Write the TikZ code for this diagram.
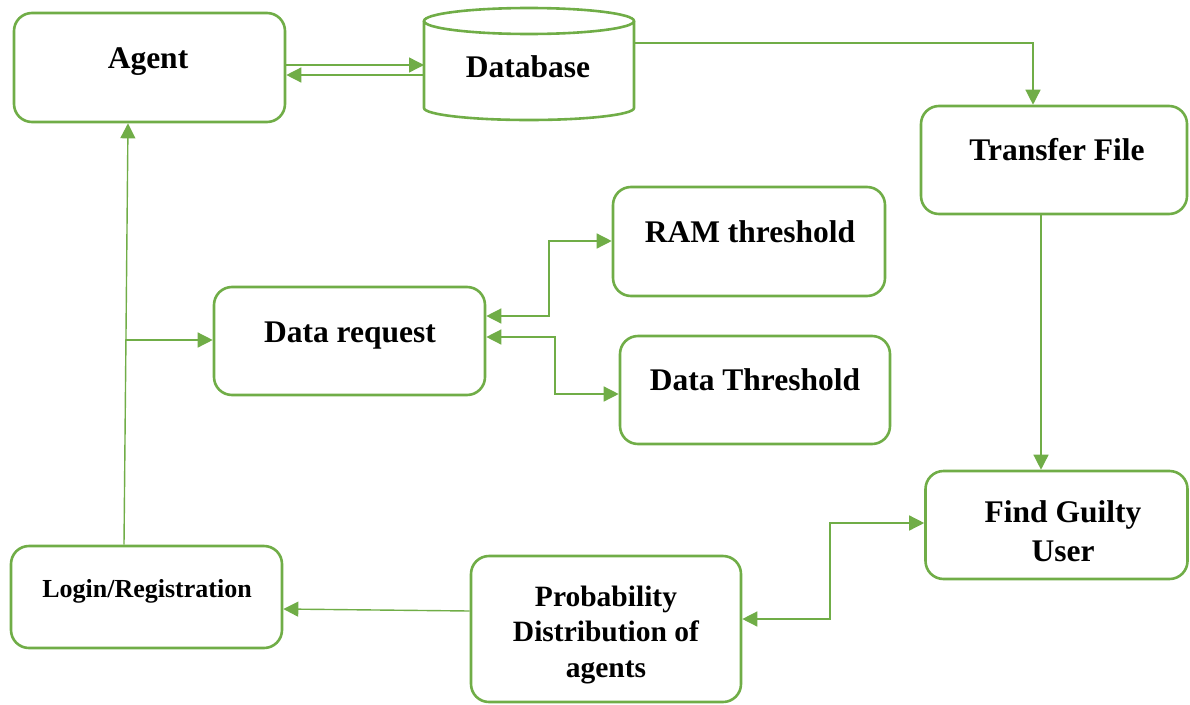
\documentclass[tikz,border=0pt]{standalone}
\usepackage{fontspec}
\setmainfont{Liberation Serif}
\usetikzlibrary{arrows.meta}
\definecolor{grn}{HTML}{70AD47}
\begin{document}
\begin{tikzpicture}[x=1pt,y=-1pt,
  box/.style={draw=grn, line width=2.6pt, rounded corners=18pt, inner sep=0pt},
  lbl/.style={font=\bfseries\fontsize{31.5}{39}\selectfont, align=center, inner sep=0pt},
  conn/.style={draw=grn, line width=1.4pt, -{Triangle[length=15pt,width=15pt]}},
  conntwo/.style={draw=grn, line width=1.4pt, {Triangle[length=15pt,width=15pt]}-{Triangle[length=15pt,width=15pt]}}]
\useasboundingbox (0,0) rectangle (1190,704);

% process boxes
\node[box, minimum width=271pt, minimum height=109pt] (agent) at (149.5,67.5) {};
\node[box, minimum width=266pt, minimum height=108pt] (transfer) at (1054,160) {};
\node[box, minimum width=272pt, minimum height=109pt] (ram) at (749,241.5) {};
\node[box, minimum width=271pt, minimum height=108pt] (datareq) at (349.5,341) {};
\node[box, minimum width=270pt, minimum height=108pt] (datath) at (755,390) {};
\node[box, minimum width=262pt, minimum height=108pt] (guilty) at (1056.5,525) {};
\node[box, minimum width=271pt, minimum height=102pt] (login) at (146.5,597) {};
\node[box, minimum width=270pt, minimum height=146pt] (prob) at (606,629) {};

% database cylinder
\node[minimum width=210pt, minimum height=113pt, inner sep=0pt, outer sep=0pt] (db) at (529,64.5) {};
\draw[grn, line width=2.6pt] (424,21) -- (424,108)
  arc[start angle=180, end angle=0, x radius=105, y radius=12] -- (634,21);
\draw[grn, line width=2.6pt] (529,21) ellipse[x radius=105, y radius=13];

% labels
\node[lbl] (agentlbl) at (148,62) {Agent};
\node[lbl] (dblbl) at (528,67) {Database};
\node[lbl] (transferlbl) at (1057,150) {Transfer File};
\node[lbl] (ramlbl) at (750,232) {RAM threshold};
\node[lbl] (datareqlbl) at (350,336) {Data request};
\node[lbl] (datathlbl) at (755,380) {Data Threshold};
\node[lbl] (guiltylbl) at (1063,531) {Find Guilty\\User};
\node[lbl, font=\bfseries\fontsize{26}{30}\selectfont] (loginlbl) at (147,591) {Login/Registration};
\node[lbl, font=\bfseries\fontsize{29.5}{35.5}\selectfont] (problbl) at (606,635) {Probability\\Distribution of\\agents};

% connectors
\draw[conn] (agent.east |- 0,65) -- (db.west |- 0,65);
\draw[conn] (db.west |- 0,75) -- (agent.east |- 0,75);
\draw[conn] (db.east |- 0,43) -- (1033,43) -- ([xshift=-21pt]transfer.north);
\draw[conn] ([xshift=-13pt]transfer.south) -- ([xshift=-13pt]transfer.south |- guilty.north);
\draw[conntwo] (prob.east |- 0,619) -- (830,619) -- (830,523) -- (guilty.west |- 0,523);
\draw[conn] (prob.west |- 0,611) -- (login.east |- 0,609);
\draw[conn] (login.north -| 124,0) -- (agent.south -| 128,0);
\draw[conn] (126,340) -- (datareq.west |- 0,340);
\draw[conntwo] (datareq.east |- 0,316) -- (549,316) -- (549,241) -- (ram.west |- 0,241);
\draw[conntwo] (datareq.east |- 0,337) -- (555,337) -- (555,394) -- (datath.west |- 0,394);
\end{tikzpicture}
\end{document}
